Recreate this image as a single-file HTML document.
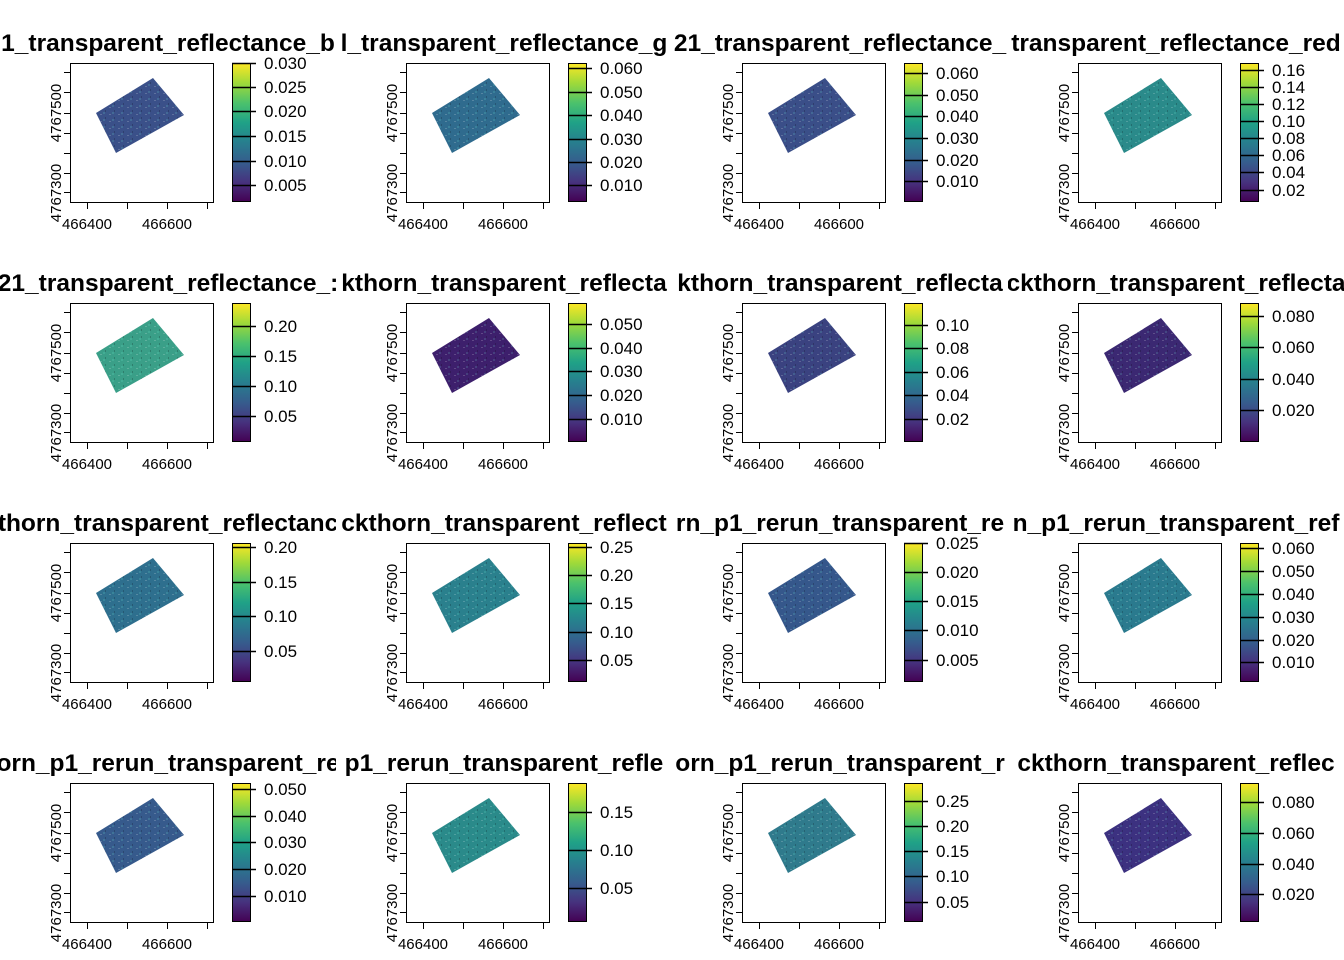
<!DOCTYPE html>
<html><head><meta charset="utf-8"><style>
body{margin:0;background:#fff;}
svg{display:block;font-family:"Liberation Sans",Arial,sans-serif;}
.t{font-weight:bold;font-size:24.5px;}
.ax{font-size:15px;}
.cb{font-size:17px;}
</style></head><body>
<svg width="1344" height="960" viewBox="0 0 1344 960" xmlns="http://www.w3.org/2000/svg">
<defs>
<linearGradient id="vir" x1="0" y1="1" x2="0" y2="0">
<stop offset="0" stop-color="#440154"/><stop offset="0.14" stop-color="#46327e"/><stop offset="0.28" stop-color="#365c8d"/><stop offset="0.43" stop-color="#277f8e"/><stop offset="0.57" stop-color="#1fa187"/><stop offset="0.71" stop-color="#4ac16d"/><stop offset="0.86" stop-color="#a0da39"/><stop offset="1" stop-color="#fde725"/>
</linearGradient>
<pattern id="spk" width="9" height="7" patternUnits="userSpaceOnUse"><rect x="1" y="2" width="2" height="1" fill="#fff" opacity="0.18"/><rect x="6" y="5" width="1" height="2" fill="#000" opacity="0.2"/><rect x="4" y="0" width="2" height="2" fill="#7fd" opacity="0.15"/></pattern>
<clipPath id="c0"><rect x="0" y="0" width="336" height="240"/></clipPath>
<g id="fr" stroke="#000" fill="none">
<rect x="70.5" y="63.5" width="143" height="139"/>
<path d="M64 72.5H70M64 92.5H70M64 113.5H70M64 133.5H70M64 153.5H70M64 173.5H70M64 192.5H70M87.5 203V209M127.5 203V209M167.5 203V209M207.5 203V209"/>
<rect x="232.5" y="63.5" width="18" height="138" fill="url(#vir)"/>
</g>
<polygon id="pg" points="153,78 184,115 116,153 96,113"/>
</defs>

<g transform="translate(0,0)">
<text class="t" x="168" y="51" text-anchor="middle" clip-path="url(#c0)">1_transparent_reflectance_b</text>
<use href="#pg" fill="#3a5089"/><use href="#pg" fill="url(#spk)"/><use href="#fr"/>
<g class="ax"><text x="87" y="229" text-anchor="middle">466400</text><text x="167" y="229" text-anchor="middle">466600</text><text transform="translate(61,113) rotate(-90)" text-anchor="middle">4767500</text><text transform="translate(61,193) rotate(-90)" text-anchor="middle">4767300</text></g>
<path d="M232 63.5H256M232 87.5H256M232 111.5H256M232 136.5H256M232 161.5H256M232 185.5H256" stroke="#000" stroke-width="1.5"/>
<g class="cb"><text x="264" y="69">0.030</text><text x="264" y="93">0.025</text><text x="264" y="117">0.020</text><text x="264" y="142">0.015</text><text x="264" y="167">0.010</text><text x="264" y="191">0.005</text></g>
</g>
<g transform="translate(336,0)">
<text class="t" x="168" y="51" text-anchor="middle" clip-path="url(#c0)">l_transparent_reflectance_g</text>
<use href="#pg" fill="#2f6b8e"/><use href="#pg" fill="url(#spk)"/><use href="#fr"/>
<g class="ax"><text x="87" y="229" text-anchor="middle">466400</text><text x="167" y="229" text-anchor="middle">466600</text><text transform="translate(61,113) rotate(-90)" text-anchor="middle">4767500</text><text transform="translate(61,193) rotate(-90)" text-anchor="middle">4767300</text></g>
<path d="M232 68.5H256M232 92.5H256M232 115.5H256M232 139.5H256M232 162.5H256M232 185.5H256" stroke="#000" stroke-width="1.5"/>
<g class="cb"><text x="264" y="74">0.060</text><text x="264" y="98">0.050</text><text x="264" y="121">0.040</text><text x="264" y="145">0.030</text><text x="264" y="168">0.020</text><text x="264" y="191">0.010</text></g>
</g>
<g transform="translate(672,0)">
<text class="t" x="168" y="51" text-anchor="middle" clip-path="url(#c0)">21_transparent_reflectance_</text>
<use href="#pg" fill="#3a4e88"/><use href="#pg" fill="url(#spk)"/><use href="#fr"/>
<g class="ax"><text x="87" y="229" text-anchor="middle">466400</text><text x="167" y="229" text-anchor="middle">466600</text><text transform="translate(61,113) rotate(-90)" text-anchor="middle">4767500</text><text transform="translate(61,193) rotate(-90)" text-anchor="middle">4767300</text></g>
<path d="M232 73.5H256M232 95.5H256M232 116.5H256M232 138.5H256M232 160.5H256M232 181.5H256" stroke="#000" stroke-width="1.5"/>
<g class="cb"><text x="264" y="79">0.060</text><text x="264" y="101">0.050</text><text x="264" y="122">0.040</text><text x="264" y="144">0.030</text><text x="264" y="166">0.020</text><text x="264" y="187">0.010</text></g>
</g>
<g transform="translate(1008,0)">
<text class="t" x="168" y="51" text-anchor="middle" clip-path="url(#c0)">transparent_reflectance_red</text>
<use href="#pg" fill="#2a8a8a"/><use href="#pg" fill="url(#spk)"/><use href="#fr"/>
<g class="ax"><text x="87" y="229" text-anchor="middle">466400</text><text x="167" y="229" text-anchor="middle">466600</text><text transform="translate(61,113) rotate(-90)" text-anchor="middle">4767500</text><text transform="translate(61,193) rotate(-90)" text-anchor="middle">4767300</text></g>
<path d="M232 70.5H256M232 87.5H256M232 104.5H256M232 121.5H256M232 138.5H256M232 155.5H256M232 172.5H256M232 190.5H256" stroke="#000" stroke-width="1.5"/>
<g class="cb"><text x="264" y="76">0.16</text><text x="264" y="93">0.14</text><text x="264" y="110">0.12</text><text x="264" y="127">0.10</text><text x="264" y="144">0.08</text><text x="264" y="161">0.06</text><text x="264" y="178">0.04</text><text x="264" y="196">0.02</text></g>
</g>

<g transform="translate(0,240)">
<text class="t" x="168" y="51" text-anchor="middle" clip-path="url(#c0)">21_transparent_reflectance_:</text>
<use href="#pg" fill="#3a9f88"/><use href="#pg" fill="url(#spk)"/><use href="#fr"/>
<g class="ax"><text x="87" y="229" text-anchor="middle">466400</text><text x="167" y="229" text-anchor="middle">466600</text><text transform="translate(61,113) rotate(-90)" text-anchor="middle">4767500</text><text transform="translate(61,193) rotate(-90)" text-anchor="middle">4767300</text></g>
<path d="M232 86.5H256M232 116.5H256M232 146.5H256M232 176.5H256" stroke="#000" stroke-width="1.5"/>
<g class="cb"><text x="264" y="92">0.20</text><text x="264" y="122">0.15</text><text x="264" y="152">0.10</text><text x="264" y="182">0.05</text></g>
</g>
<g transform="translate(336,240)">
<text class="t" x="168" y="51" text-anchor="middle" clip-path="url(#c0)">kthorn_transparent_reflecta</text>
<use href="#pg" fill="#3d1f6c"/><use href="#pg" fill="url(#spk)"/><use href="#fr"/>
<g class="ax"><text x="87" y="229" text-anchor="middle">466400</text><text x="167" y="229" text-anchor="middle">466600</text><text transform="translate(61,113) rotate(-90)" text-anchor="middle">4767500</text><text transform="translate(61,193) rotate(-90)" text-anchor="middle">4767300</text></g>
<path d="M232 84.5H256M232 108.5H256M232 131.5H256M232 155.5H256M232 179.5H256" stroke="#000" stroke-width="1.5"/>
<g class="cb"><text x="264" y="90">0.050</text><text x="264" y="114">0.040</text><text x="264" y="137">0.030</text><text x="264" y="161">0.020</text><text x="264" y="185">0.010</text></g>
</g>
<g transform="translate(672,240)">
<text class="t" x="168" y="51" text-anchor="middle" clip-path="url(#c0)">kthorn_transparent_reflecta</text>
<use href="#pg" fill="#3a4280"/><use href="#pg" fill="url(#spk)"/><use href="#fr"/>
<g class="ax"><text x="87" y="229" text-anchor="middle">466400</text><text x="167" y="229" text-anchor="middle">466600</text><text transform="translate(61,113) rotate(-90)" text-anchor="middle">4767500</text><text transform="translate(61,193) rotate(-90)" text-anchor="middle">4767300</text></g>
<path d="M232 85.5H256M232 108.5H256M232 132.5H256M232 155.5H256M232 179.5H256" stroke="#000" stroke-width="1.5"/>
<g class="cb"><text x="264" y="91">0.10</text><text x="264" y="114">0.08</text><text x="264" y="138">0.06</text><text x="264" y="161">0.04</text><text x="264" y="185">0.02</text></g>
</g>
<g transform="translate(1008,240)">
<text class="t" x="168" y="51" text-anchor="middle" clip-path="url(#c0)">ckthorn_transparent_reflecta</text>
<use href="#pg" fill="#3b2872"/><use href="#pg" fill="url(#spk)"/><use href="#fr"/>
<g class="ax"><text x="87" y="229" text-anchor="middle">466400</text><text x="167" y="229" text-anchor="middle">466600</text><text transform="translate(61,113) rotate(-90)" text-anchor="middle">4767500</text><text transform="translate(61,193) rotate(-90)" text-anchor="middle">4767300</text></g>
<path d="M232 76.5H256M232 107.5H256M232 139.5H256M232 170.5H256" stroke="#000" stroke-width="1.5"/>
<g class="cb"><text x="264" y="82">0.080</text><text x="264" y="113">0.060</text><text x="264" y="145">0.040</text><text x="264" y="176">0.020</text></g>
</g>

<g transform="translate(0,480)">
<text class="t" x="168" y="51" text-anchor="middle" clip-path="url(#c0)">thorn_transparent_reflectanc</text>
<use href="#pg" fill="#2e6f8e"/><use href="#pg" fill="url(#spk)"/><use href="#fr"/>
<g class="ax"><text x="87" y="229" text-anchor="middle">466400</text><text x="167" y="229" text-anchor="middle">466600</text><text transform="translate(61,113) rotate(-90)" text-anchor="middle">4767500</text><text transform="translate(61,193) rotate(-90)" text-anchor="middle">4767300</text></g>
<path d="M232 67.5H256M232 102.5H256M232 136.5H256M232 171.5H256" stroke="#000" stroke-width="1.5"/>
<g class="cb"><text x="264" y="73">0.20</text><text x="264" y="108">0.15</text><text x="264" y="142">0.10</text><text x="264" y="177">0.05</text></g>
</g>
<g transform="translate(336,480)">
<text class="t" x="168" y="51" text-anchor="middle" clip-path="url(#c0)">ckthorn_transparent_reflect</text>
<use href="#pg" fill="#2a808d"/><use href="#pg" fill="url(#spk)"/><use href="#fr"/>
<g class="ax"><text x="87" y="229" text-anchor="middle">466400</text><text x="167" y="229" text-anchor="middle">466600</text><text transform="translate(61,113) rotate(-90)" text-anchor="middle">4767500</text><text transform="translate(61,193) rotate(-90)" text-anchor="middle">4767300</text></g>
<path d="M232 67.5H256M232 95.5H256M232 123.5H256M232 152.5H256M232 180.5H256" stroke="#000" stroke-width="1.5"/>
<g class="cb"><text x="264" y="73">0.25</text><text x="264" y="101">0.20</text><text x="264" y="129">0.15</text><text x="264" y="158">0.10</text><text x="264" y="186">0.05</text></g>
</g>
<g transform="translate(672,480)">
<text class="t" x="168" y="51" text-anchor="middle" clip-path="url(#c0)">rn_p1_rerun_transparent_re</text>
<use href="#pg" fill="#35578b"/><use href="#pg" fill="url(#spk)"/><use href="#fr"/>
<g class="ax"><text x="87" y="229" text-anchor="middle">466400</text><text x="167" y="229" text-anchor="middle">466600</text><text transform="translate(61,113) rotate(-90)" text-anchor="middle">4767500</text><text transform="translate(61,193) rotate(-90)" text-anchor="middle">4767300</text></g>
<path d="M232 63.5H256M232 92.5H256M232 121.5H256M232 150.5H256M232 180.5H256" stroke="#000" stroke-width="1.5"/>
<g class="cb"><text x="264" y="69">0.025</text><text x="264" y="98">0.020</text><text x="264" y="127">0.015</text><text x="264" y="156">0.010</text><text x="264" y="186">0.005</text></g>
</g>
<g transform="translate(1008,480)">
<text class="t" x="168" y="51" text-anchor="middle" clip-path="url(#c0)">n_p1_rerun_transparent_ref</text>
<use href="#pg" fill="#2a7a8e"/><use href="#pg" fill="url(#spk)"/><use href="#fr"/>
<g class="ax"><text x="87" y="229" text-anchor="middle">466400</text><text x="167" y="229" text-anchor="middle">466600</text><text transform="translate(61,113) rotate(-90)" text-anchor="middle">4767500</text><text transform="translate(61,193) rotate(-90)" text-anchor="middle">4767300</text></g>
<path d="M232 68.5H256M232 91.5H256M232 114.5H256M232 137.5H256M232 160.5H256M232 182.5H256" stroke="#000" stroke-width="1.5"/>
<g class="cb"><text x="264" y="74">0.060</text><text x="264" y="97">0.050</text><text x="264" y="120">0.040</text><text x="264" y="143">0.030</text><text x="264" y="166">0.020</text><text x="264" y="188">0.010</text></g>
</g>

<g transform="translate(0,720)">
<text class="t" x="168" y="51" text-anchor="middle" clip-path="url(#c0)">orn_p1_rerun_transparent_re</text>
<use href="#pg" fill="#365a8c"/><use href="#pg" fill="url(#spk)"/><use href="#fr"/>
<g class="ax"><text x="87" y="229" text-anchor="middle">466400</text><text x="167" y="229" text-anchor="middle">466600</text><text transform="translate(61,113) rotate(-90)" text-anchor="middle">4767500</text><text transform="translate(61,193) rotate(-90)" text-anchor="middle">4767300</text></g>
<path d="M232 69.5H256M232 96.5H256M232 122.5H256M232 149.5H256M232 176.5H256" stroke="#000" stroke-width="1.5"/>
<g class="cb"><text x="264" y="75">0.050</text><text x="264" y="102">0.040</text><text x="264" y="128">0.030</text><text x="264" y="155">0.020</text><text x="264" y="182">0.010</text></g>
</g>
<g transform="translate(336,720)">
<text class="t" x="168" y="51" text-anchor="middle" clip-path="url(#c0)">p1_rerun_transparent_refle</text>
<use href="#pg" fill="#2a8a8a"/><use href="#pg" fill="url(#spk)"/><use href="#fr"/>
<g class="ax"><text x="87" y="229" text-anchor="middle">466400</text><text x="167" y="229" text-anchor="middle">466600</text><text transform="translate(61,113) rotate(-90)" text-anchor="middle">4767500</text><text transform="translate(61,193) rotate(-90)" text-anchor="middle">4767300</text></g>
<path d="M232 92.5H256M232 130.5H256M232 168.5H256" stroke="#000" stroke-width="1.5"/>
<g class="cb"><text x="264" y="98">0.15</text><text x="264" y="136">0.10</text><text x="264" y="174">0.05</text></g>
</g>
<g transform="translate(672,720)">
<text class="t" x="168" y="51" text-anchor="middle" clip-path="url(#c0)">orn_p1_rerun_transparent_r</text>
<use href="#pg" fill="#2f7a8c"/><use href="#pg" fill="url(#spk)"/><use href="#fr"/>
<g class="ax"><text x="87" y="229" text-anchor="middle">466400</text><text x="167" y="229" text-anchor="middle">466600</text><text transform="translate(61,113) rotate(-90)" text-anchor="middle">4767500</text><text transform="translate(61,193) rotate(-90)" text-anchor="middle">4767300</text></g>
<path d="M232 81.5H256M232 106.5H256M232 131.5H256M232 156.5H256M232 182.5H256" stroke="#000" stroke-width="1.5"/>
<g class="cb"><text x="264" y="87">0.25</text><text x="264" y="112">0.20</text><text x="264" y="137">0.15</text><text x="264" y="162">0.10</text><text x="264" y="188">0.05</text></g>
</g>
<g transform="translate(1008,720)">
<text class="t" x="168" y="51" text-anchor="middle" clip-path="url(#c0)">ckthorn_transparent_reflec</text>
<use href="#pg" fill="#3c3180"/><use href="#pg" fill="url(#spk)"/><use href="#fr"/>
<g class="ax"><text x="87" y="229" text-anchor="middle">466400</text><text x="167" y="229" text-anchor="middle">466600</text><text transform="translate(61,113) rotate(-90)" text-anchor="middle">4767500</text><text transform="translate(61,193) rotate(-90)" text-anchor="middle">4767300</text></g>
<path d="M232 82.5H256M232 113.5H256M232 144.5H256M232 174.5H256" stroke="#000" stroke-width="1.5"/>
<g class="cb"><text x="264" y="88">0.080</text><text x="264" y="119">0.060</text><text x="264" y="150">0.040</text><text x="264" y="180">0.020</text></g>
</g>
</svg>
</body></html>
